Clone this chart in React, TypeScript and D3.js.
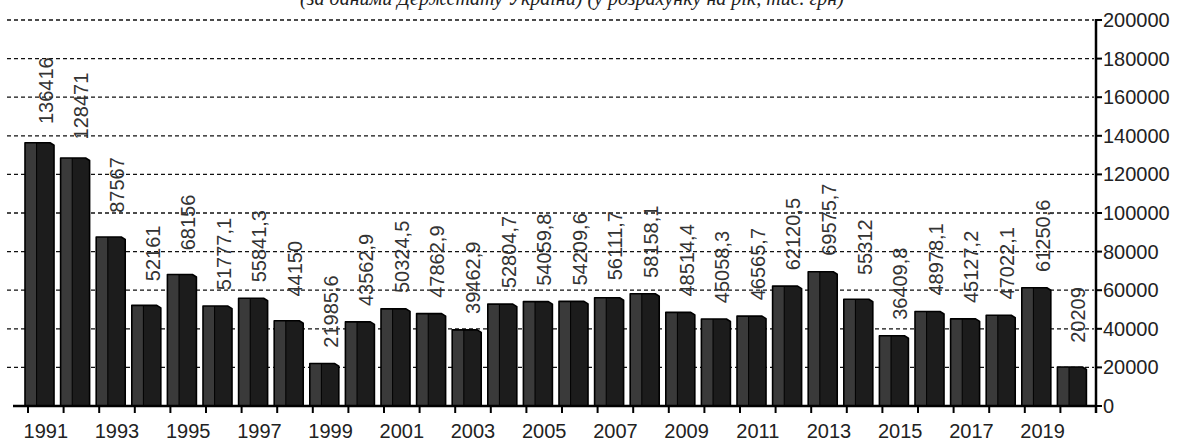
import React from "react";
import * as d3 from "d3";

// Annual values, 1991–2020
const years: number[] = [
  1991, 1992, 1993, 1994, 1995, 1996, 1997, 1998, 1999, 2000,
  2001, 2002, 2003, 2004, 2005, 2006, 2007, 2008, 2009, 2010,
  2011, 2012, 2013, 2014, 2015, 2016, 2017, 2018, 2019, 2020,
];
const values: number[] = [
  136416, 128471, 87567, 52161, 68156, 51777.1, 55841.3, 44150, 21985.6, 43562.9,
  50324.5, 47862.9, 39462.9, 52804.7, 54059.8, 54209.6, 56111.7, 58158.1, 48514.4, 45058.3,
  46565.7, 62120.5, 69575.7, 55312, 36409.8, 48978.1, 45127.2, 47022.1, 61250.6, 20209,
];
const yTicks: number[] = [0, 20000, 40000, 60000, 80000, 100000, 120000, 140000, 160000, 180000, 200000];
const yearLabels: number[] = years.filter((y) => y % 2 === 1);
const title = "(за даними Держстату України) (у розрахунку на рік, тис. грн)";

const W = 1190;
const H = 442;
const FONT = "Arial, 'Liberation Sans', sans-serif";

// Decimal comma, as in the source labels
const fmt = (v: number) => String(v).replace(".", ",");

export default function App() {
  const x = d3.scaleBand<number>().domain(years).range([28, 1096]).padding(0);
  const y = d3.scaleLinear().domain([0, 200000]).range([406, 20]);
  const step = x.step();
  const barW = step * 0.815;
  const shift = -3;
  const base = y(0);

  return (
    <svg
      width={W}
      height={H}
      style={{ position: "absolute", left: 0, top: 0, background: "#fff" }}
      fontFamily={FONT}
    >
      {/* cropped caption */}
      <text
        x={572}
        y={5}
        textAnchor="middle"
        fontFamily="'Liberation Serif', 'Times New Roman', serif"
        fontStyle="italic"
        fontSize={20}
        fill="#222"
      >
        {title}
      </text>

      {/* dashed gridlines */}
      {yTicks
        .filter((t) => t > 0)
        .map((t) => (
          <line
            key={"g" + t}
            x1={7}
            x2={1094}
            y1={y(t)}
            y2={y(t)}
            stroke="#111"
            strokeWidth={1.3}
            strokeDasharray="4,3"
          />
        ))}

      {/* bars */}
      {years.map((yr, i) => {
        const x0 = (x(yr) as number) + shift;
        const top = y(values[i]);
        const x1 = x0 + barW;
        const split = x0 + barW * 0.4;
        const outline = `M${x0},${base} L${x0},${top} L${x1 - 4},${top} L${x1},${top + 2.5} L${x1},${base} Z`;
        const left = `M${x0},${base} L${x0},${top} L${split},${top} L${split},${base} Z`;
        return (
          <g key={"b" + yr}>
            <path d={outline} fill="#1c1c1c" />
            <path d={left} fill="#3a3a3a" />
            <line x1={split} x2={split} y1={top} y2={base} stroke="#000" strokeWidth={1} />
            <path d={outline} fill="none" stroke="#000" strokeWidth={1.6} strokeLinejoin="round" />
          </g>
        );
      })}

      {/* value labels, rotated */}
      {years.map((yr, i) => {
        const cx = (x(yr) as number) + step / 2;
        const cy = y(values[i]) - 52;
        return (
          <text
            key={"v" + yr}
            transform={`translate(${cx},${cy}) rotate(-90)`}
            textAnchor="middle"
            dominantBaseline="central"
            fontSize={20}
            fill="#333"
          >
            {fmt(values[i])}
          </text>
        );
      })}

      {/* bottom axis */}
      <line x1={13} x2={1096} y1={base} y2={base} stroke="#000" strokeWidth={2.5} />
      {years.map((yr) => (
        <line
          key={"t" + yr}
          x1={x(yr) as number}
          x2={x(yr) as number}
          y1={base}
          y2={base + 7}
          stroke="#000"
          strokeWidth={2}
        />
      ))}
      {yearLabels.map((yr) => (
        <text
          key={"l" + yr}
          x={(x(yr) as number) + step / 2}
          y={438}
          textAnchor="middle"
          fontSize={20}
          fill="#222"
        >
          {yr}
        </text>
      ))}

      {/* right value axis */}
      <line x1={1096} x2={1096} y1={y(200000) - 1} y2={base + 7} stroke="#000" strokeWidth={2.5} />
      {yTicks.map((t) => (
        <g key={"r" + t}>
          <line x1={1096} x2={1102} y1={y(t)} y2={y(t)} stroke="#000" strokeWidth={2} />
          <text
            x={1103}
            y={y(t)}
            dominantBaseline="central"
            fontSize={20}
            fill="#222"
          >
            {t}
          </text>
        </g>
      ))}
    </svg>
  );
}
